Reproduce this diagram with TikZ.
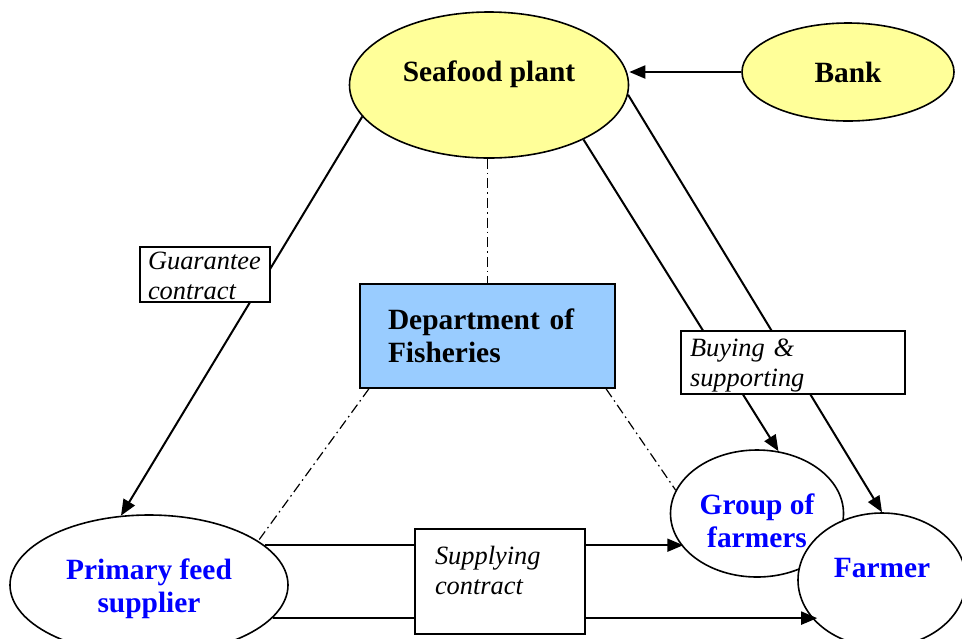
\documentclass[tikz,border=0pt]{standalone}
\usepackage{fontspec}
\setmainfont{Liberation Serif}
\usetikzlibrary{shapes.geometric,arrows.meta}
\definecolor{plantyellow}{HTML}{FFFF99}
\definecolor{fisheryblue}{HTML}{99CCFF}
\definecolor{actorblue}{HTML}{0000FF}

\begin{document}
\begin{tikzpicture}[x=0.5pt,y=-0.5pt,
		actortext/.style={align=center,font=\fontsize{14.7}{16.5}\selectfont\bfseries},
		actor/.style={ellipse,draw,line width=0.8pt,inner sep=0pt,actortext},
		yellowactor/.style={actor,fill=plantyellow},
		blueactor/.style={actor,fill=white,text=actorblue},
		bluetext/.style={actortext,text=actorblue},
		note/.style={rectangle,draw,line width=0.8pt,fill=white,align=left,inner ysep=0pt,font=\fontsize{13.2}{15}\selectfont\itshape},
		flow/.style={line width=1pt,-{Triangle[length=8pt,width=6.5pt]}},
		link/.style={line width=0.6pt,dash pattern=on 5pt off 2pt on 0.8pt off 2pt}]
			\useasboundingbox (0,0) rectangle (962,638);
			\clip (0,0) rectangle (962,638);
			% actors
			\node[yellowactor,minimum width=139.5pt,minimum height=73pt,label={[actortext,yshift=5.5pt]center:Seafood plant}] (plant) at (489,85) {};
			\node[yellowactor,minimum width=106pt,minimum height=49pt] (bank) at (848,72) {Bank};
			\node[rectangle,draw,line width=0.8pt,fill=fisheryblue,actortext,align=left,text width=99.5pt,inner xsep=14pt,inner ysep=0pt,minimum height=52pt] (dept) at (487.5,336) {Department of\\Fisheries};
			\node[blueactor,minimum width=139pt,minimum height=70pt,label={[bluetext,yshift=-1.75pt]center:Primary feed\\supplier}] (feed) at (149,585) {};
			\node[blueactor,minimum width=86.5pt,minimum height=63.5pt,label={[bluetext,yshift=-3.5pt]center:Group of\\farmers}] (group) at (757,513.5) {};
			\node[blueactor,minimum width=84pt,minimum height=67pt,label={[bluetext,yshift=6pt]center:Farmer}] (farmer) at (882,580) {};
			% flows
			\draw[flow] (bank.west) -- (bank.west -| plant.east);
			\draw[flow] (plant.194) -- (feed.112);
			\draw[flow] (plant.-30) -- (group.71);
			\draw[flow] (plant.-4) -- (farmer.north);
			\draw[flow] (feed.19) -- (feed.19 -| group.205);
			\draw[flow] (feed.-15) -- (feed.-15 -| farmer.214);
			\draw[link] (dept.north |- plant.south) -- (dept.north);
			\draw[link] (dept.204) -- (feed.22);
			\draw[link] (dept.-24) -- (group.164);
			% contracts
			\node[note,text width=57pt,inner xsep=4pt,minimum height=27.5pt,text depth=13.5pt] (guarantee) at (205,274.5) {Guarantee\\contract};
			\node[note,text width=103pt,inner xsep=4.5pt,minimum height=31.5pt,text depth=14.5pt] (buying) at (793,362.5) {Buying \&\\supporting};
			\node[note,text width=65pt,inner xsep=10pt,minimum height=52.5pt,text depth=26.5pt] (supplying) at (500,581.5) {Supplying\\contract};
		\end{tikzpicture}
\end{document}
